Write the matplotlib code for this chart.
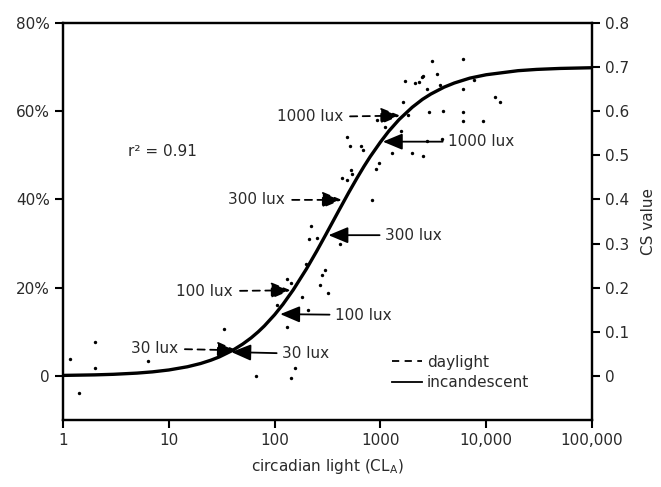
import numpy as np
from matplotlib import pyplot as plt
from matplotlib.lines import Line2D

# fitted curve (CS value vs circadian light)
curve_cl = [1, 2, 3, 5, 7, 10, 15, 20, 25, 30, 40, 50, 60, 70, 80, 100, 120, 150, 200, 250,
            300, 350, 400, 500, 600, 700, 800, 1000, 1200, 1500, 2000, 2500, 3000, 4000,
            5000, 7000, 10000, 20000, 30000, 50000, 100000]
curve_cs = [0.0011, 0.0023, 0.0036, 0.0063, 0.0091, 0.0134, 0.0207, 0.0281, 0.0356, 0.0430,
            0.0577, 0.0722, 0.0862, 0.0999, 0.1132, 0.1386, 0.1623, 0.1950, 0.2425, 0.2828,
            0.3173, 0.3469, 0.3726, 0.415, 0.4482, 0.475, 0.4968, 0.530, 0.5548, 0.581,
            0.609, 0.627, 0.639, 0.6546, 0.664, 0.675, 0.6827, 0.6919, 0.6948, 0.6970, 0.6986]

# measured points
pts_cl = [1.16, 2.0, 2.0, 1.43, 6.4, 33, 66, 156, 142, 132, 162, 209, 181, 105, 132, 142,
          270, 323, 279, 199, 300,
          220, 213, 254, 413, 830, 432, 482, 526, 538, 488, 518, 655, 680, 912, 975,
          1283, 1983, 2552, 2750, 3811, 1109, 1560, 925, 1841, 1630, 2911, 3897, 6100,
          6100, 9425, 12170, 13360, 1714, 2131, 2292, 2466, 2552, 3464, 2750, 3673, 6100,
          7586, 3064, 6100]
pts_cs = [0.038, 0.076, 0.017, -0.039, 0.033, 0.107, 0.0, 0.019, -0.004, 0.11, 0.149, 0.149,
          0.179, 0.160, 0.219, 0.21, 0.206, 0.188, 0.229, 0.254, 0.241,
          0.34, 0.31, 0.312, 0.298, 0.399, 0.449, 0.443, 0.467, 0.457, 0.541, 0.521, 0.522,
          0.512, 0.468, 0.482,
          0.505, 0.505, 0.499, 0.533, 0.537, 0.564, 0.556, 0.580, 0.592, 0.620, 0.599, 0.601,
          0.599, 0.577, 0.577, 0.632, 0.620, 0.669, 0.665, 0.667, 0.677, 0.680, 0.684, 0.650,
          0.660, 0.650, 0.671, 0.714, 0.719]

# arrow labels: (text, tip CL, tip CS, text CL, text CS)
daylight = [('1000 lux', 1540, 0.590, 444, 0.587),
            ('300 lux', 432, 0.399, 126, 0.399),
            ('100 lux', 142, 0.194, 40.5, 0.192),
            ('30 lux', 44, 0.058, 12.2, 0.062)]
incandescent = [('1000 lux', 1055, 0.531, 4372, 0.531),
                ('300 lux', 323, 0.319, 1109, 0.319),
                ('100 lux', 113, 0.140, 373, 0.138),
                ('30 lux', 39, 0.054, 118, 0.050)]

xticks = [1, 10, 100, 1000, 10000, 100000]
xticklabels = ['1', '10', '100', '1000', '10,000', '100,000']
left_ticks = [0, 0.2, 0.4, 0.6, 0.8]
left_labels = ['0', '20%', '40%', '60%', '80%']
right_ticks = [0, 0.1, 0.2, 0.3, 0.4, 0.5, 0.6, 0.7, 0.8]

txt = '#2a2a2a'
plt.rcParams['font.family'] = 'DejaVu Sans'
plt.rcParams['font.size'] = 11

fig = plt.figure(figsize=(6.61, 4.87), dpi=100)
ax = fig.add_axes([63/661, 67/487, 529/661, 397/487])

ax.plot(curve_cl, curve_cs, color='black', lw=2.4, zorder=3, solid_joinstyle='round')
ax.scatter(pts_cl, pts_cs, s=6, color='black', zorder=4, linewidths=0)

for lab, x, y, tx, ty in daylight:
    ax.annotate(lab, xy=(x, y), xytext=(tx, ty), ha='right', va='center', color=txt,
                arrowprops=dict(arrowstyle='-|>,head_length=0.6,head_width=0.25',
                                linestyle=(0, (4, 3)), color='black', lw=1.3,
                                mutation_scale=20, shrinkA=3, shrinkB=0), zorder=5)
for lab, x, y, tx, ty in incandescent:
    ax.annotate(lab, xy=(x, y), xytext=(tx, ty), ha='left', va='center', color=txt,
                arrowprops=dict(arrowstyle='-|>,head_length=0.6,head_width=0.25',
                                color='black', lw=1.3, mutation_scale=20,
                                shrinkA=2, shrinkB=0), zorder=5)

ax.text(4.1, 0.508, 'r² = 0.91', ha='left', va='center', color=txt)

ax.set_xscale('log')
ax.set_xlim(1, 100000)
ax.set_ylim(-0.1, 0.8)
ax.set_xticks(xticks)
ax.set_xticklabels(xticklabels)
ax.xaxis.set_minor_locator(plt.NullLocator())
ax.set_yticks(left_ticks)
ax.set_yticklabels(left_labels)
ax.tick_params(colors='black', labelcolor=txt, width=1.5, length=6, direction='out')
ax.set_xlabel(r'circadian light (CL$_\mathregular{A}$)', color=txt, labelpad=6)
for s in ax.spines.values():
    s.set_linewidth(1.6)

ax2 = ax.twinx()
ax2.set_ylim(-0.1, 0.8)
ax2.set_yticks(right_ticks)
ax2.set_yticklabels(['0'] + ['%.1f' % v for v in right_ticks[1:]])
ax2.tick_params(colors='black', labelcolor=txt, width=1.5, length=6, direction='out')
ax2.set_ylabel('CS value', color=txt, labelpad=8)
for s in ax2.spines.values():
    s.set_linewidth(1.6)

handles = [Line2D([], [], color='black', lw=1.3, linestyle=(0, (4, 3))),
           Line2D([], [], color='black', lw=1.3)]
leg = ax.legend(handles, ['daylight', 'incandescent'], loc='upper left',
                bbox_to_anchor=(0.61, 0.18), frameon=False, handlelength=2.0,
                handletextpad=0.3, labelspacing=0.35, borderaxespad=0)
for t in leg.get_texts():
    t.set_color(txt)

fig.savefig('out.png', dpi=100)
